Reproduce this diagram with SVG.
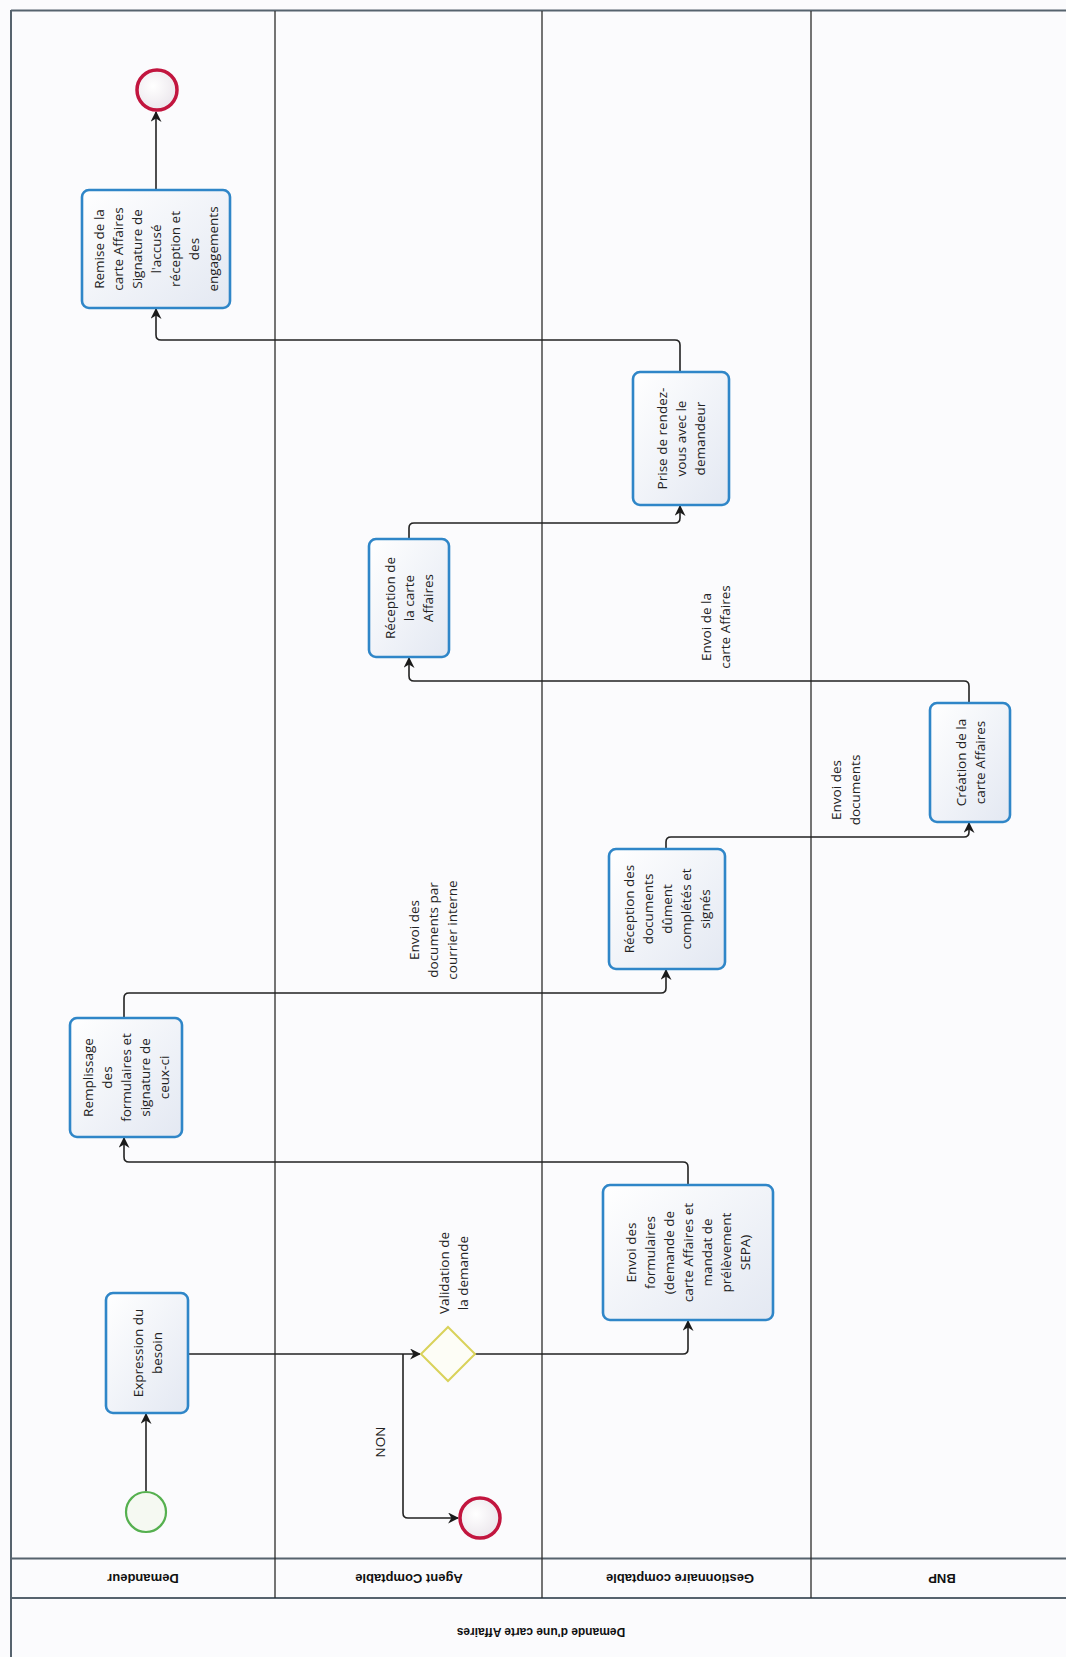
<svg xmlns="http://www.w3.org/2000/svg" width="1066" height="1657" viewBox="0 0 1066 1657">
<defs>
<linearGradient id="taskFill" x1="0" y1="0" x2="1" y2="1">
<stop offset="0" stop-color="#ffffff"/>
<stop offset="1" stop-color="#e3e8f2"/>
</linearGradient>
<radialGradient id="endFill" cx="0.4" cy="0.4" r="0.7">
<stop offset="0" stop-color="#ffffff"/>
<stop offset="1" stop-color="#e9e4ea"/>
</radialGradient>
<marker id="arr" viewBox="0 0 10 10" refX="9" refY="5" markerWidth="11" markerHeight="11" markerUnits="userSpaceOnUse" orient="auto">
<path d="M0,0 L10,5 L0,10 L3,5 z" fill="#1a1a1a"/>
</marker>
<style>
.lane{stroke:#2b2b2b;stroke-width:1.3;fill:none}
.hdr{stroke:#56636e;stroke-width:2;fill:none}
.task{fill:url(#taskFill);stroke:#2f86c8;stroke-width:2.6}
.start{fill:#f5f9f2;stroke:#55b04f;stroke-width:2.2}
.end{fill:url(#endFill);stroke:#c2163f;stroke-width:3.5}
.gw{fill:#fdfdf6;stroke:#d9d25a;stroke-width:2}
.conn{fill:none;stroke:#222;stroke-width:1.6;marker-end:url(#arr)}
.t{font-family:"Open Sans","Liberation Sans",sans-serif;font-size:13.5px;fill:#222;text-anchor:middle;dominant-baseline:central}
.h{font-family:"Liberation Sans","DejaVu Sans",sans-serif;font-size:13px;font-weight:bold;fill:#111;text-anchor:middle;dominant-baseline:central}
.ti{font-family:"Liberation Sans","DejaVu Sans",sans-serif;font-size:12px;font-weight:bold;fill:#111;text-anchor:middle;dominant-baseline:central}
</style>
</defs>
<rect x="0" y="0" width="1066" height="1657" fill="#fbfbfd"/>

<g id="pool">
<line class="hdr" x1="11" y1="10.5" x2="1066" y2="10.5"/>
<line class="hdr" x1="11" y1="10" x2="11" y2="1657"/>
<line class="hdr" x1="11" y1="1558.5" x2="1066" y2="1558.5"/>
<line class="hdr" x1="11" y1="1598" x2="1066" y2="1598"/>
<line class="lane" x1="275" y1="11" x2="275" y2="1598"/>
<line class="lane" x1="542" y1="11" x2="542" y2="1598"/>
<line class="lane" x1="811" y1="11" x2="811" y2="1598"/>
<text class="h" transform="translate(143,1578) rotate(180)">Demandeur</text>
<text class="h" transform="translate(409,1578) rotate(180)">Agent Comptable</text>
<text class="h" transform="translate(680,1578) rotate(180)">Gestionnaire comptable</text>
<text class="h" transform="translate(942,1578) rotate(180)">BNP</text>
<text class="ti" transform="translate(541,1632) rotate(180)">Demande d'une carte Affaires</text>
</g>

<g id="connectors">
<path class="conn" d="M146,1491 V1414"/>
<path class="conn" d="M188,1354 H420"/>
<path class="conn" d="M403,1354 V1513 Q403,1518 408,1518 H458"/>
<path class="conn" d="M475,1354 H683 Q688,1354 688,1349 V1321"/>
<path class="conn" d="M688,1185 V1167 Q688,1162 683,1162 H129 Q124,1162 124,1157 V1138"/>
<path class="conn" d="M124,1018 V998 Q124,993 129,993 H661 Q666,993 666,988 V970"/>
<path class="conn" d="M666,849 V842 Q666,837 671,837 H964 Q969,837 969,832 V823"/>
<path class="conn" d="M969,703 V686 Q969,681 964,681 H414 Q409,681 409,676 V658"/>
<path class="conn" d="M409,539 V528 Q409,523 414,523 H675 Q680,523 680,518 V506"/>
<path class="conn" d="M680,372 V345 Q680,340 675,340 H161 Q156,340 156,335 V309"/>
<path class="conn" d="M156,190 V112"/>
<text class="t" transform="translate(380,1442) rotate(-90)">NON</text>
<text class="t" transform="translate(433,930) rotate(-90)"><tspan x="0" y="-19">Envoi des</tspan><tspan x="0" y="0">documents par</tspan><tspan x="0" y="19">courrier interne</tspan></text>
<text class="t" transform="translate(845,790) rotate(-90)"><tspan x="0" y="-9.5">Envoi des</tspan><tspan x="0" y="9.5">documents</tspan></text>
<text class="t" transform="translate(715,627) rotate(-90)"><tspan x="0" y="-9.5">Envoi de la</tspan><tspan x="0" y="9.5">carte Affaires</tspan></text>
</g>

<g id="start">
<circle class="start" cx="146" cy="1512" r="20"/>
</g>

<g id="expression">
<rect class="task" x="106" y="1293" width="82" height="120" rx="7"/>
<text class="t" transform="translate(147,1353) rotate(-90)"><tspan x="0" y="-9.5">Expression du</tspan><tspan x="0" y="9.5">besoin</tspan></text>
</g>

<g id="gateway">
<path class="gw" d="M448,1327 L475,1354 L448,1381 L421,1354 Z"/>
<text class="t" transform="translate(453,1273) rotate(-90)"><tspan x="0" y="-9.5">Validation de</tspan><tspan x="0" y="9.5">la demande</tspan></text>
</g>

<g id="end-refus">
<circle class="end" cx="480" cy="1518" r="20"/>
</g>

<g id="envoi-formulaires">
<rect class="task" x="603" y="1185" width="170" height="135" rx="7"/>
<text class="t" transform="translate(688,1252.5) rotate(-90)"><tspan x="0" y="-57">Envoi des</tspan><tspan x="0" y="-38">formulaires</tspan><tspan x="0" y="-19">(demande de</tspan><tspan x="0" y="0">carte Affaires et</tspan><tspan x="0" y="19">mandat de</tspan><tspan x="0" y="38">prélèvement</tspan><tspan x="0" y="57">SEPA)</tspan></text>
</g>

<g id="remplissage">
<rect class="task" x="70" y="1018" width="112" height="119" rx="7"/>
<text class="t" transform="translate(126,1077.5) rotate(-90)"><tspan x="0" y="-38">Remplissage</tspan><tspan x="0" y="-19">des</tspan><tspan x="0" y="0">formulaires et</tspan><tspan x="0" y="19">signature de</tspan><tspan x="0" y="38">ceux-ci</tspan></text>
</g>

<g id="reception-documents">
<rect class="task" x="609" y="849" width="116" height="120" rx="7"/>
<text class="t" transform="translate(667,909) rotate(-90)"><tspan x="0" y="-38">Réception des</tspan><tspan x="0" y="-19">documents</tspan><tspan x="0" y="0">dûment</tspan><tspan x="0" y="19">complétés et</tspan><tspan x="0" y="38">signés</tspan></text>
</g>

<g id="creation-carte">
<rect class="task" x="930" y="703" width="80" height="119" rx="7"/>
<text class="t" transform="translate(970,762.5) rotate(-90)"><tspan x="0" y="-9.5">Création de la</tspan><tspan x="0" y="9.5">carte Affaires</tspan></text>
</g>

<g id="reception-carte">
<rect class="task" x="369" y="539" width="80" height="118" rx="7"/>
<text class="t" transform="translate(409,598) rotate(-90)"><tspan x="0" y="-19">Réception de</tspan><tspan x="0" y="0">la carte</tspan><tspan x="0" y="19">Affaires</tspan></text>
</g>

<g id="prise-rdv">
<rect class="task" x="633" y="372" width="96" height="133" rx="7"/>
<text class="t" transform="translate(681,438.5) rotate(-90)"><tspan x="0" y="-19">Prise de rendez-</tspan><tspan x="0" y="0">vous avec le</tspan><tspan x="0" y="19">demandeur</tspan></text>
</g>

<g id="remise-carte">
<rect class="task" x="82" y="190" width="148" height="118" rx="7"/>
<text class="t" transform="translate(156,249) rotate(-90)"><tspan x="0" y="-57">Remise de la</tspan><tspan x="0" y="-38">carte Affaires</tspan><tspan x="0" y="-19">Signature de</tspan><tspan x="0" y="0">l'accusé</tspan><tspan x="0" y="19">réception et</tspan><tspan x="0" y="38">des</tspan><tspan x="0" y="57">engagements</tspan></text>
</g>

<g id="end-final">
<circle class="end" cx="157" cy="90" r="20"/>
</g>
</svg>
